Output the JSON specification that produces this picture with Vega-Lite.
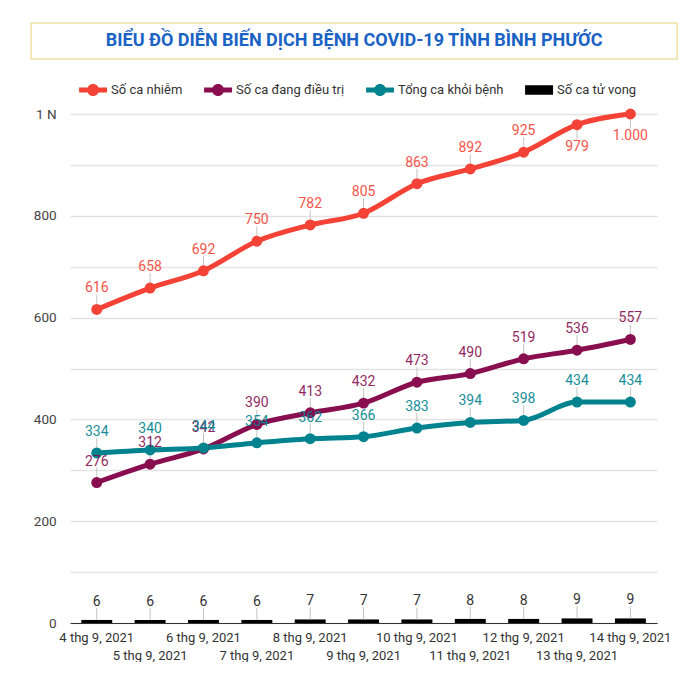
{
  "$schema": "https://vega.github.io/schema/vega-lite/v6.json",
  "background": "white",
  "padding": {"left": 30, "top": 22, "right": 0, "bottom": 0},
  "autosize": {"type": "pad"},
  "center": true,
  "spacing": 16,
  "resolve": {"legend": {"color": "independent"}, "scale": {"color": "independent"}},
  "config": {
    "font": "Roboto",
    "view": {"stroke": null},
    "locale": {"number": {"decimal": ",", "thousands": ".", "grouping": [3], "currency": ["", ""]}}
  },
  "datasets": {
    "d": [
      {"ngay": "4 thg 9, 2021", "series": "Số ca nhiễm", "value": 616},
      {"ngay": "5 thg 9, 2021", "series": "Số ca nhiễm", "value": 658},
      {"ngay": "6 thg 9, 2021", "series": "Số ca nhiễm", "value": 692},
      {"ngay": "7 thg 9, 2021", "series": "Số ca nhiễm", "value": 750},
      {"ngay": "8 thg 9, 2021", "series": "Số ca nhiễm", "value": 782},
      {"ngay": "9 thg 9, 2021", "series": "Số ca nhiễm", "value": 805},
      {"ngay": "10 thg 9, 2021", "series": "Số ca nhiễm", "value": 863},
      {"ngay": "11 thg 9, 2021", "series": "Số ca nhiễm", "value": 892},
      {"ngay": "12 thg 9, 2021", "series": "Số ca nhiễm", "value": 925},
      {"ngay": "13 thg 9, 2021", "series": "Số ca nhiễm", "value": 979},
      {"ngay": "14 thg 9, 2021", "series": "Số ca nhiễm", "value": 1000},
      {"ngay": "4 thg 9, 2021", "series": "Số ca đang điều trị", "value": 276},
      {"ngay": "5 thg 9, 2021", "series": "Số ca đang điều trị", "value": 312},
      {"ngay": "6 thg 9, 2021", "series": "Số ca đang điều trị", "value": 342},
      {"ngay": "7 thg 9, 2021", "series": "Số ca đang điều trị", "value": 390},
      {"ngay": "8 thg 9, 2021", "series": "Số ca đang điều trị", "value": 413},
      {"ngay": "9 thg 9, 2021", "series": "Số ca đang điều trị", "value": 432},
      {"ngay": "10 thg 9, 2021", "series": "Số ca đang điều trị", "value": 473},
      {"ngay": "11 thg 9, 2021", "series": "Số ca đang điều trị", "value": 490},
      {"ngay": "12 thg 9, 2021", "series": "Số ca đang điều trị", "value": 519},
      {"ngay": "13 thg 9, 2021", "series": "Số ca đang điều trị", "value": 536},
      {"ngay": "14 thg 9, 2021", "series": "Số ca đang điều trị", "value": 557},
      {"ngay": "4 thg 9, 2021", "series": "Tổng ca khỏi bệnh", "value": 334},
      {"ngay": "5 thg 9, 2021", "series": "Tổng ca khỏi bệnh", "value": 340},
      {"ngay": "6 thg 9, 2021", "series": "Tổng ca khỏi bệnh", "value": 344},
      {"ngay": "7 thg 9, 2021", "series": "Tổng ca khỏi bệnh", "value": 354},
      {"ngay": "8 thg 9, 2021", "series": "Tổng ca khỏi bệnh", "value": 362},
      {"ngay": "9 thg 9, 2021", "series": "Tổng ca khỏi bệnh", "value": 366},
      {"ngay": "10 thg 9, 2021", "series": "Tổng ca khỏi bệnh", "value": 383},
      {"ngay": "11 thg 9, 2021", "series": "Tổng ca khỏi bệnh", "value": 394},
      {"ngay": "12 thg 9, 2021", "series": "Tổng ca khỏi bệnh", "value": 398},
      {"ngay": "13 thg 9, 2021", "series": "Tổng ca khỏi bệnh", "value": 434},
      {"ngay": "14 thg 9, 2021", "series": "Tổng ca khỏi bệnh", "value": 434},
      {"ngay": "4 thg 9, 2021", "series": "Số ca tử vong", "value": 6},
      {"ngay": "5 thg 9, 2021", "series": "Số ca tử vong", "value": 6},
      {"ngay": "6 thg 9, 2021", "series": "Số ca tử vong", "value": 6},
      {"ngay": "7 thg 9, 2021", "series": "Số ca tử vong", "value": 6},
      {"ngay": "8 thg 9, 2021", "series": "Số ca tử vong", "value": 7},
      {"ngay": "9 thg 9, 2021", "series": "Số ca tử vong", "value": 7},
      {"ngay": "10 thg 9, 2021", "series": "Số ca tử vong", "value": 7},
      {"ngay": "11 thg 9, 2021", "series": "Số ca tử vong", "value": 8},
      {"ngay": "12 thg 9, 2021", "series": "Số ca tử vong", "value": 8},
      {"ngay": "13 thg 9, 2021", "series": "Số ca tử vong", "value": 9},
      {"ngay": "14 thg 9, 2021", "series": "Số ca tử vong", "value": 9}
    ]
  },
  "vconcat": [
    {
      "width": 646,
      "height": 36,
      "view": {"stroke": "#f1e0a6", "strokeWidth": 1.5, "fill": "white"},
      "data": {"values": [{"t": "BIỂU ĐỒ DIỄN BIẾN DỊCH BỆNH COVID-19 TỈNH BÌNH PHƯỚC"}]},
      "mark": {"type": "text", "font": "Roboto", "fontWeight": "bold", "fontSize": 18, "color": "#1a62c4", "align": "center", "baseline": "middle"},
      "encoding": {
        "text": {"field": "t"},
        "y": {
          "datum": 0, "type": "quantitative",
          "scale": {"domain": [-1, 1]},
          "axis": {"orient": "right", "labels": false, "ticks": false, "domain": false, "grid": false,
                   "title": " ", "titleColor": "#ffffff", "titlePadding": 18, "titleFontSize": 14}
        }
      }
    },
    {
      "width": 587,
      "height": 509,
      "data": {"name": "d"},
      "encoding": {
        "x": {
          "field": "ngay", "type": "ordinal",
          "scale": {
            "domain": ["4 thg 9, 2021", "5 thg 9, 2021", "6 thg 9, 2021", "7 thg 9, 2021", "8 thg 9, 2021", "9 thg 9, 2021", "10 thg 9, 2021", "11 thg 9, 2021", "12 thg 9, 2021", "13 thg 9, 2021", "14 thg 9, 2021"],
            "paddingInner": 0.42, "paddingOuter": 0.21
          },
          "axis": {
            "title": null, "labelAngle": 0, "ticks": false, "domainColor": "#333333", "domainWidth": 1,
            "labelOverlap": false, "labelBound": false, "labelFont": "Roboto", "labelFontSize": 13,
            "labelColor": "#333333", "labelPadding": 8, "labelLineHeight": 18,
            "labelExpr": "toNumber(split(datum.label, ' ')[0]) % 2 === 0 ? datum.label : ['', datum.label]"
          }
        },
        "y": {
          "field": "value", "type": "quantitative",
          "scale": {"domain": [0, 1000], "nice": false},
          "axis": {
            "title": null, "domain": false, "ticks": false,
            "values": [0, 100, 200, 300, 400, 500, 600, 700, 800, 900, 1000],
            "gridColor": "#e3e3e3", "gridWidth": 1.5,
            "labelFont": "Roboto", "labelFontSize": 13.5, "labelColor": "#444444", "labelPadding": 14,
            "labelExpr": "datum.value === 1000 ? '1 N' : (datum.value % 200 === 0 ? datum.label : '')"
          }
        }
      },
      "layer": [
        {
          "transform": [{"filter": "datum.series === 'Số ca tử vong'"}],
          "mark": {"type": "bar", "color": "#000000"},
          "encoding": {
            "color": {"field": "series", "type": "nominal"}
          }
        },
        {
          "transform": [{"filter": "datum.series === 'Số ca tử vong'"}],
          "mark": {"type": "rule", "color": "#c4c4c4", "strokeWidth": 1, "yOffset": -12, "y2Offset": 0},
          "encoding": {"y2": {"field": "value"}}
        },
        {
          "transform": [{"filter": "datum.series === 'Số ca tử vong'"}],
          "mark": {"type": "text", "font": "Roboto", "fontSize": 14, "color": "#333333", "baseline": "alphabetic", "dy": -14},
          "encoding": {"text": {"field": "value", "type": "quantitative", "format": ",d"}}
        },
        {
          "transform": [{"filter": "datum.series !== 'Số ca tử vong' && !(datum.series === 'Số ca nhiễm' && datum.value > 970)"}],
          "mark": {"type": "rule", "color": "#c4c4c4", "strokeWidth": 1, "yOffset": -15, "y2Offset": -5},
          "encoding": {"y2": {"field": "value"}}
        },
        {
          "transform": [{"filter": "datum.series === 'Số ca nhiễm' && datum.value > 970"}],
          "mark": {"type": "rule", "color": "#c4c4c4", "strokeWidth": 1, "yOffset": 5, "y2Offset": 15},
          "encoding": {"y2": {"field": "value"}}
        },
        {
          "transform": [{"filter": "datum.series !== 'Số ca tử vong'"}],
          "mark": {"type": "line", "strokeWidth": 5, "interpolate": "monotone"},
          "encoding": {
            "color": {
              "field": "series", "type": "nominal",
              "scale": {
                "domain": ["Số ca nhiễm", "Số ca đang điều trị", "Tổng ca khỏi bệnh", "Số ca tử vong"],
                "range": ["#f44336", "#880e4f", "#00838f", "#000000"]
              },
              "legend": {
                "orient": "none", "legendX": 9, "legendY": -38, "direction": "horizontal",
                "title": null, "symbolSize": 784, "symbolStrokeWidth": 0,
                "labelFont": "Roboto", "labelFontSize": 13, "labelColor": "#333333",
                "labelOffset": 4, "columnPadding": 21,
                "encode": {
                  "symbols": {
                    "update": {
                      "shape": {"signal": "datum.value === 'Số ca tử vong' ? 'M-1,-0.34H1V0.34H-1Z' : 'M-1,-0.18H1V0.18H-1Z M0.43,0A0.43,0.43 0 1,1 -0.43,0A0.43,0.43 0 1,1 0.43,0Z'"},
                      "fill": {"scale": "color", "field": "value"},
                      "strokeWidth": {"value": 0},
                      "opacity": {"value": 1}
                    }
                  }
                }
              }
            }
          }
        },
        {
          "transform": [{"filter": "datum.series !== 'Số ca tử vong'"}],
          "mark": {"type": "point", "filled": true, "size": 120, "opacity": 1},
          "encoding": {"color": {"field": "series", "type": "nominal"}}
        },
        {
          "transform": [{"filter": "datum.series !== 'Số ca tử vong' && !(datum.series === 'Số ca nhiễm' && datum.value > 970)"}],
          "mark": {"type": "text", "font": "Roboto", "fontSize": 14, "baseline": "alphabetic", "dy": -17, "opacity": 0.9},
          "encoding": {
            "text": {"field": "value", "type": "quantitative", "format": ",d"},
            "color": {"field": "series", "type": "nominal"}
          }
        },
        {
          "transform": [{"filter": "datum.series === 'Số ca nhiễm' && datum.value > 970"}],
          "mark": {"type": "text", "font": "Roboto", "fontSize": 14, "baseline": "alphabetic", "dy": 26, "opacity": 0.9},
          "encoding": {
            "text": {"field": "value", "type": "quantitative", "format": ",d"},
            "color": {"field": "series", "type": "nominal"}
          }
        }
      ]
    }
  ]
}
